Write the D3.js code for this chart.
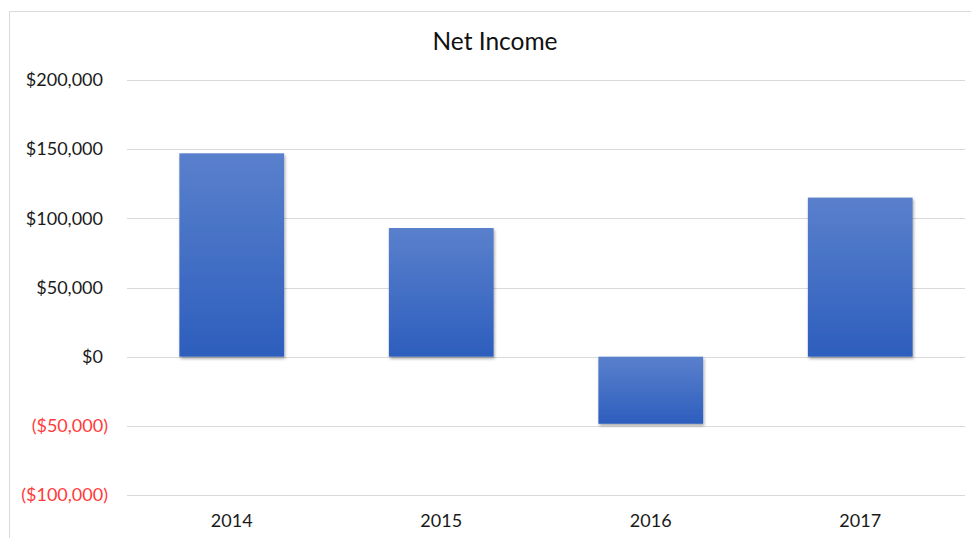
<!DOCTYPE html>
<html>
<head>
  <title>Net Income</title>
  <script src="https://d3js.org/d3.v7.min.js"></script>
  <style>
    body { margin: 0; background: #fff; }
  </style>
</head>
<body>
<script>
  // chart values
  var years = ["2014", "2015", "2016", "2017"];
  var netIncome = [147000, 93000, -48500, 115000];
  var yTicks = [-100000, -50000, 0, 50000, 100000, 150000, 200000];

  var w = 971, h = 538;
  // note: "top" is a reserved window global, so use plot* names
  var plotLeft = 127, plotRight = 965, plotTop = 80, plotBottom = 495;

  var svg = d3.select("body").append("svg").attr("width", w).attr("height", h)
    .style("font-family", "Lato, 'Open Sans', sans-serif");

  // gradient + shadow for the bars
  var defs = svg.append("defs");
  var grad = defs.append("linearGradient").attr("id", "barGrad")
    .attr("x1", 0).attr("y1", 0).attr("x2", 0).attr("y2", 1);
  grad.append("stop").attr("offset", "0%").attr("stop-color", "#5a80cc");
  grad.append("stop").attr("offset", "100%").attr("stop-color", "#2d5ebd");
  var f = defs.append("filter").attr("id", "shadow")
    .attr("x", "-10%").attr("y", "-10%").attr("width", "130%").attr("height", "130%");
  f.append("feDropShadow").attr("dx", 1).attr("dy", 2).attr("stdDeviation", 1.5)
    .attr("flood-color", "#000").attr("flood-opacity", 0.35);

  // chart frame (left and top edges visible)
  svg.append("path").attr("d", "M9.5,538 V11.5 H971")
    .attr("fill", "none").attr("stroke", "#d9d9d9").attr("stroke-width", 1);

  var x = d3.scaleBand().domain(years).range([plotLeft, plotRight]).paddingInner(0.5).paddingOuter(0.25);
  var y = d3.scaleLinear().domain([-100000, 200000]).range([plotBottom, plotTop]);

  // gridlines
  svg.append("g").selectAll("line").data(yTicks).enter().append("line")
    .attr("x1", plotLeft).attr("x2", plotRight)
    .attr("y1", function(d) { return Math.round(y(d)) + 0.5; })
    .attr("y2", function(d) { return Math.round(y(d)) + 0.5; })
    .attr("stroke", "#d9d9d9").attr("stroke-width", 1.2);

  // y labels, negatives in red with parentheses
  var fmt = d3.format(",");
  svg.append("g").selectAll("text").data(yTicks).enter().append("text")
    .attr("x", function(d) { return d < 0 ? 108 : 103; })
    .attr("y", function(d) { return y(d); })
    .attr("dy", "0.35em")
    .attr("text-anchor", "end")
    .attr("font-size", "18px")
    .attr("fill", function(d) { return d < 0 ? "#ff3b3b" : "#1a1a1a"; })
    .text(function(d) { return d < 0 ? "($" + fmt(-d) + ")" : "$" + fmt(d); });

  // bars
  svg.append("g").selectAll("rect").data(netIncome).enter().append("rect")
    .attr("x", function(d, i) { return x(years[i]); })
    .attr("y", function(d) { return y(Math.max(0, d)); })
    .attr("width", x.bandwidth())
    .attr("height", function(d) { return Math.abs(y(d) - y(0)); })
    .attr("fill", "url(#barGrad)")
    .attr("filter", "url(#shadow)");

  // x labels
  svg.append("g").selectAll("text").data(years).enter().append("text")
    .attr("x", function(d) { return x(d) + x.bandwidth() / 2; })
    .attr("y", 521)
    .attr("dy", "0.35em")
    .attr("text-anchor", "middle")
    .attr("font-size", "18px")
    .attr("fill", "#1a1a1a")
    .text(function(d) { return d; });

  // title
  svg.append("text").attr("x", 495).attr("y", 41).attr("dy", "0.35em")
    .attr("text-anchor", "middle").attr("font-size", "24.5px").attr("fill", "#111")
    .text("Net Income");
</script>
</body>
</html>
